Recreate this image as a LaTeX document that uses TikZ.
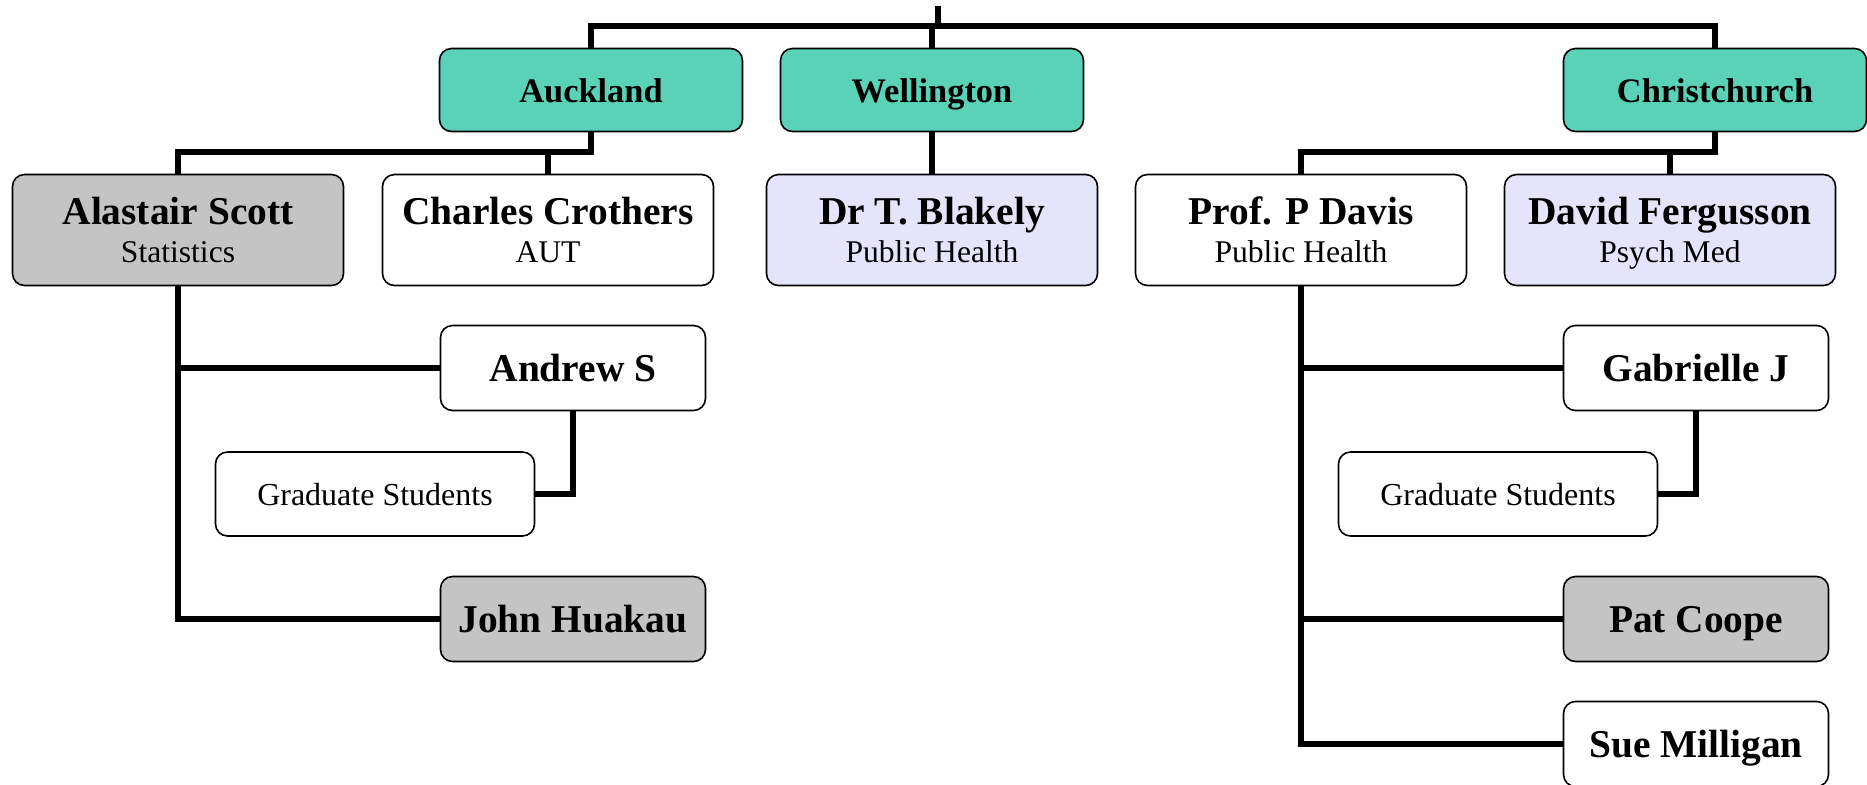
\documentclass[tikz,border=0pt]{standalone}
\usepackage{fontspec}
\setmainfont{Liberation Serif}
\usetikzlibrary{positioning}
\definecolor{cityfill}{RGB}{90,210,183}
\definecolor{greyfill}{RGB}{196,196,196}
\definecolor{bluefill}{RGB}{228,228,250}
\newcommand{\headname}[1]{\textbf{\fontsize{19.7}{19}\selectfont #1}}

\begin{document}
\begin{tikzpicture}[x=0.5pt, y=-0.5pt]
\tikzstyle{box} = [draw, line width=0.8pt, rectangle, rounded corners=6pt, inner sep=0pt, text centered]
\tikzstyle{city} = [box, fill=cityfill, minimum width=151.5pt, minimum height=41.5pt, text height=12.5pt, text depth=0pt, font=\fontsize{17.2}{20}\selectfont\bfseries]
\tikzstyle{head} = [box, minimum width=165.5pt, minimum height=55.5pt, align=center, font=\fontsize{15.8}{19}\selectfont]
\tikzstyle{person} = [box, minimum width=132.5pt, minimum height=42.5pt, text height=13.5pt, text depth=0pt, font=\fontsize{19.7}{22}\selectfont\bfseries]
\tikzstyle{grads} = [box, minimum width=159.5pt, minimum height=42pt, text height=11pt, text depth=0pt, font=\fontsize{16}{19}\selectfont]
\tikzstyle{line} = [draw, line width=2.6pt]

\useasboundingbox (0,0) rectangle (1867,784);

% cities
\node [city] (auckland) at (591,90) {Auckland};
\node [city] (wellington) at (932,90) {Wellington};
\node [city] (christchurch) at (1715,90) {Christchurch};

% heads
\node [head, fill=greyfill] (scott) at (178,230) {\headname{Alastair Scott}\\Statistics};
\node [head] (crothers) at (548,230) {\headname{Charles Crothers}\\AUT};
\node [head, fill=bluefill] (blakely) at (932,230) {\headname{Dr T. Blakely}\\Public Health};
\node [head] (davis) at (1301,230) {\headname{Prof. P Davis}\\Public Health};
\node [head, fill=bluefill] (fergusson) at (1670,230) {\headname{David Fergusson}\\\smash{Psych Med}};

% people
\node [person] (andrew) at (573,368) {Andrew S};
\node [grads] (gradsL) at (375,494) {Graduate Students};
\node [person, fill=greyfill] (huakau) at (573,619) {John Huakau};
\node [person] (gabrielle) at (1696,368) {Gabrielle J};
\node [grads] (gradsR) at (1498,494) {Graduate Students};
\node [person, fill=greyfill] (coope) at (1696,619) {Pat Coope};
\node [person] (milligan) at (1696,744) {Sue Milligan};

% top bus
\coordinate (root) at (938,6);
\coordinate (bus) at (938,26);
\path [line] (root) -- (bus);
\path [line] (auckland.north) |- (bus) -| (christchurch.north);
\path [line] (wellington.north) -- (wellington.north |- bus);

% city to heads
\coordinate (aklbus) at (591,152);
\path [line] (scott.north) |- (aklbus) -- (auckland.south);
\path [line] (crothers.north) -- (crothers.north |- aklbus);
\path [line] (wellington.south) -- (blakely.north);
\coordinate (chcbus) at (1715,152);
\path [line] (davis.north) |- (chcbus) -- (christchurch.south);
\path [line] (fergusson.north) -- (fergusson.north |- chcbus);

% heads to people
\path [line] (scott.south) |- (huakau.west);
\path [line] (scott.south |- andrew.west) -- (andrew.west);
\path [line] (andrew.south) |- (gradsL.east);
\path [line] (davis.south) |- (milligan.west);
\path [line] (davis.south |- gabrielle.west) -- (gabrielle.west);
\path [line] (davis.south |- coope.west) -- (coope.west);
\path [line] (gabrielle.south) |- (gradsR.east);

\end{tikzpicture}
\end{document}
